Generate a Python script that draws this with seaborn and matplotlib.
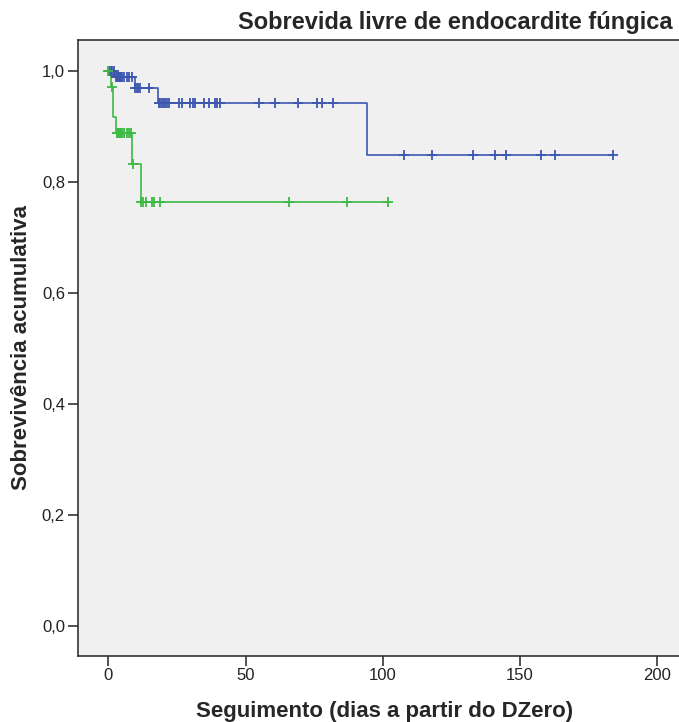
import numpy as np
import pandas as pd
import matplotlib
matplotlib.use('Agg')
import matplotlib.pyplot as plt
import seaborn as sns

# Kaplan-Meier step values (days, cumulative survival)
blue_step_t = [0, 2.2, 9.5, 18.0, 94.2]
blue_step_s = [1.0, 0.990, 0.970, 0.943, 0.848]
blue_censor_t = [0.3, 0.8, 1.4, 1.9,
                 2.6, 3.0, 3.4, 3.8, 4.2, 4.6, 5.0, 5.5, 6.6, 7.6, 8.5,
                 9.8, 10.3, 10.8, 11.4, 14.9,
                 18.3, 18.9, 19.5, 20.1, 20.8, 21.5, 22.2, 25.7, 26.7, 29.7, 30.8,
                 31.6, 34.8, 36.8, 38.9, 39.7, 40.7, 55.0, 60.9, 69.0, 76.0, 77.8,
                 81.8, 108.0, 118.1, 132.9, 141.0, 145.0, 158.0, 162.9, 184.2]

green_step_t = [0, 1.0, 1.8, 2.8, 8.7, 11.7]
green_step_s = [1.0, 0.972, 0.917, 0.889, 0.833, 0.764]
green_censor_t = [0.0, 1.2,
                  3.0, 3.4, 3.8, 4.2, 4.6, 5.0, 5.5, 6.6, 7.6, 8.4,
                  8.9,
                  11.8, 12.7, 13.6, 15.8, 16.6, 18.8, 66.0, 86.9, 102.1]

blue_color = '#3D57B0'
green_color = '#3DBA45'

sns.set_theme(style='ticks')
plt.rcParams['font.family'] = ['Liberation Sans', 'DejaVu Sans']


def step_frame(step_t, step_s, censor_t):
    t = list(step_t) + [max(censor_t)]
    s = list(step_s) + [step_s[-1]]
    line = pd.DataFrame({'t': t, 's': s})
    idx = np.searchsorted(step_t, censor_t, side='right') - 1
    marks = pd.DataFrame({'t': censor_t, 's': np.array(step_s)[idx]})
    return line, marks


fig = plt.figure(figsize=(6.79, 7.22), dpi=100)
ax = fig.add_axes([77.5 / 679, 66 / 722, 606.5 / 679, 616.5 / 722])
ax.set_facecolor('#F0F0F0')

for step_t, step_s, censor_t, col in [
        (blue_step_t, blue_step_s, blue_censor_t, blue_color),
        (green_step_t, green_step_s, green_censor_t, green_color)]:
    line, marks = step_frame(step_t, step_s, censor_t)
    sns.lineplot(data=line, x='t', y='s', drawstyle='steps-post', estimator=None,
                 sort=False, color=col, linewidth=1.2, ax=ax)
    sns.scatterplot(data=marks, x='t', y='s', marker='+', s=50, color=col,
                    linewidth=1.3, ax=ax, zorder=3)

ax.set_xlim(-11.3, 210)
ax.set_ylim(-0.055, 1.057)
ax.set_xticks([0, 50, 100, 150, 200])
ax.set_yticks([0, 0.2, 0.4, 0.6, 0.8, 1.0])
ax.set_yticklabels(['0,0', '0,2', '0,4', '0,6', '0,8', '1,0'])
ax.tick_params(axis='both', length=7, width=1.2, color='#333333',
               labelsize=12, pad=2, labelcolor='#222222')
ax.set_xlabel('')
ax.set_ylabel('')
for side in ['left', 'bottom', 'top', 'right']:
    ax.spines[side].set_color('#333333')
    ax.spines[side].set_linewidth(1.2)

fig.text(673 / 679, 1 - 23 / 722, 'Sobrevida livre de endocardite fúngica',
         ha='right', va='center', fontsize=17, fontweight='bold')
fig.text(384.5 / 679, 10 / 722, 'Seguimento (dias a partir do DZero)',
         ha='center', va='center', fontsize=16, fontweight='bold')
fig.text(21.5 / 679, 1 - 347 / 722, 'Sobrevivência acumulativa',
         ha='center', va='center', rotation=90, fontsize=16, fontweight='bold')

fig.savefig('out.png', dpi=100, facecolor='white')
